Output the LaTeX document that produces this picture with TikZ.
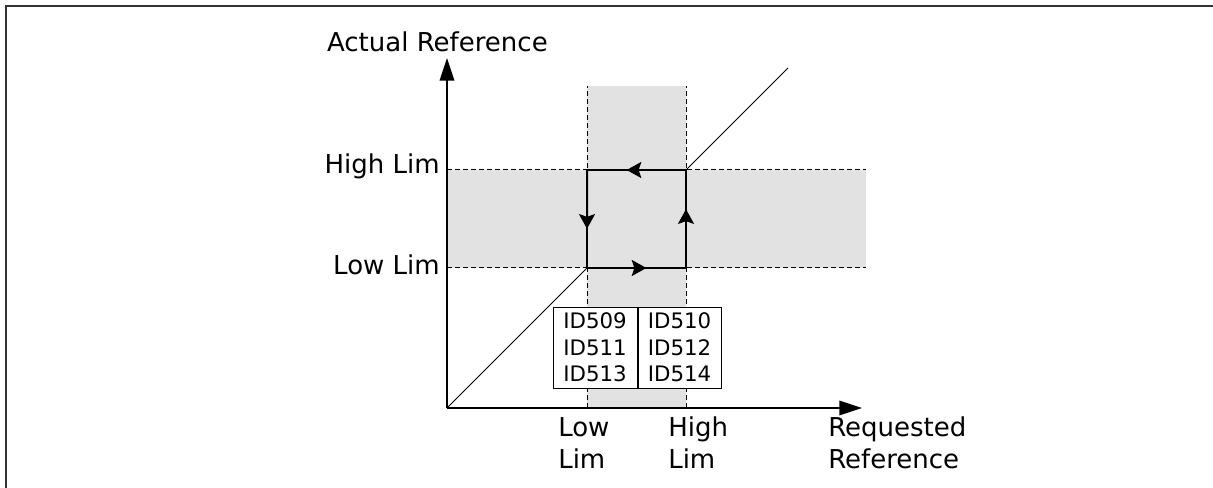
\documentclass[tikz,border=0pt]{standalone}
\usepackage{fontspec}
\setmainfont{DejaVu Sans}
\definecolor{bandgray}{HTML}{E2E2E2}
\definecolor{framegray}{HTML}{333333}
\usetikzlibrary{arrows.meta, positioning, calc}

\begin{document}
\begin{tikzpicture}[x=0.75pt, y=-0.75pt, >=Stealth,
  lbl/.style={inner sep=0pt, font=\fontsize{19.5}{24}\selectfont, align=left},
  guide/.style={dash pattern=on 3.5pt off 2.5pt, line width=0.75pt},
  axis/.style={line width=1.1pt, -{Triangle[length=17pt, width=11pt]}},
  loopline/.style={line width=1.5pt},
  idcell/.style={draw, fill=white, line width=0.75pt, minimum height=60.75pt,
    inner sep=0pt, font=\fontsize{16}{20}\selectfont, align=left}]
  \useasboundingbox (0,0) rectangle (1213,488);
  \draw[line width=1.5pt, framegray] (6,488) -- (6,6) -- (1213,6);

  \coordinate (O) at (447,408);
  \coordinate (ytip) at (447,58);
  \coordinate (xtip) at (862,408);
  \coordinate (bandtop) at (0,86);
  \coordinate (bandend) at (866,0);
  \coordinate (a) at (587,268);
  \coordinate (b) at (686,268);
  \coordinate (c) at (686,170);
  \coordinate (d) at (587,170);
  \coordinate (diagend) at (788,68);

  \fill[bandgray] (a |- bandtop) rectangle (b |- O);
  \fill[bandgray] (O |- d) rectangle (bandend |- b);
  \foreach \p in {a, b} {
    \draw[guide] (\p |- O) -- (\p |- bandtop);
  }
  \foreach \p in {c, a} {
    \draw[guide] (O |- \p) -- (bandend |- \p);
  }

  \draw[line width=0.75pt] (O) -- (a);
  \draw[line width=0.75pt] (c) -- (diagend);
  \draw[loopline] (a) -- (b) -- (c) -- (d) -- cycle;
  \foreach \p/\q in {c/d, d/a, a/b, b/c} {
    \draw[loopline, -{Stealth[length=11pt, width=12pt, inset=2pt]}] (\p) -- ($(\p)!0.6!(\q)$);
  }

  \draw[axis] (O) -- (ytip);
  \draw[axis] (O) -- (xtip);

  \node[idcell, minimum width=63pt] (idleft) at (595,347.5) {ID509\\ID511\\ID513};
  \node[idcell, minimum width=62.25pt, right=0pt of idleft] (idright) {ID510\\ID512\\ID514};

  \node[lbl, anchor=base east] (ylabel) at (548,52) {Actual Reference};
  \node[lbl, anchor=base east] (highy) at (440,174) {High Lim};
  \node[lbl, anchor=base east] (lowy) at (440,275) {Low Lim};
  \node[lbl, anchor=base west] (lowx) at (558,468) {Low\\Lim};
  \node[lbl, anchor=base west] (highx) at (668,468) {High\\Lim};
  \node[lbl, anchor=base west] (xlabel) at (828,468) {Requested\\Reference};
\end{tikzpicture}
\end{document}
